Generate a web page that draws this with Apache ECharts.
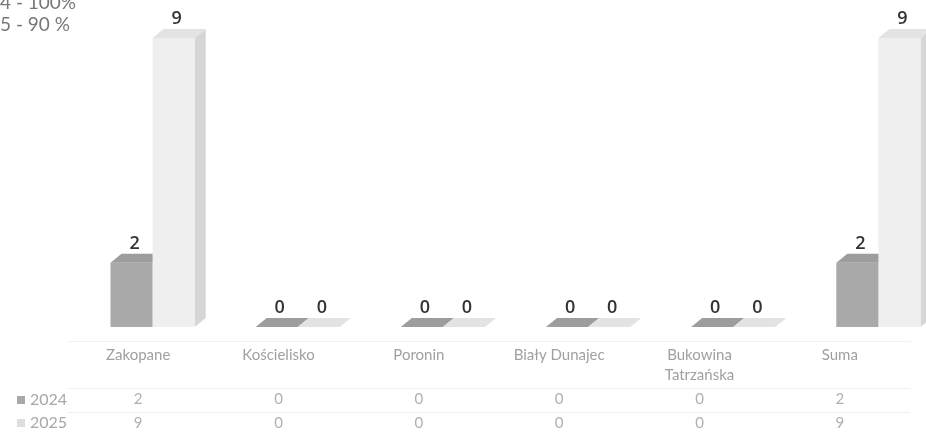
<!DOCTYPE html>
<html>
<head>
<meta charset="utf-8">
<script src="https://cdn.jsdelivr.net/npm/echarts@6/dist/echarts.min.js"></script>
<style>
html,body{margin:0;padding:0;background:#fff;}
#chart{width:926px;height:432px;}
</style>
</head>
<body>
<div id="chart"></div>
<script>
const categories = ['Zakopane', 'Kościelisko', 'Poronin', 'Biały Dunajec', 'Bukowina\nTatrzańska', 'Suma'];
const seriesNames = ['2024', '2025'];
const values2024 = [2, 0, 0, 0, 0, 2];
const values2025 = [9, 0, 0, 0, 0, 9];
const noteLines = ['4 - 100%', '5 - 90 %'];

const FONT = 'Lato, "Open Sans", sans-serif';
const LABEL_FONT = '"Open Sans", Lato, sans-serif';
const palettes = [
  { front: '#a9a9a9', top: '#9d9d9d', side: '#8f8f8f' },
  { front: '#efefef', top: '#e3e3e3', side: '#d6d6d6' }
];

function makeRender(sIdx) {
  return function (params, api) {
    const i = api.value(0), v = api.value(1);
    const base = api.coord([i, 0]);
    const tp = api.coord([i, v]);
    const band = api.size([1, 0])[0];
    const w = band * 0.29;
    const dx = 11, dy = 9;
    const x0 = base[0] + (sIdx === 0 ? -w : 0);
    const yb = base[1], yt = tp[1];
    const c = palettes[sIdx];
    const children = [];
    if (v > 0) {
      children.push({ type: 'polygon', shape: { points: [[x0 + w, yt], [x0 + w + dx, yt - dy], [x0 + w + dx, yb - dy], [x0 + w, yb]] }, style: { fill: c.side } });
      children.push({ type: 'rect', shape: { x: x0, y: yt, width: w, height: yb - yt }, style: { fill: c.front } });
    }
    children.push({ type: 'polygon', shape: { points: [[x0, yt], [x0 + dx, yt - dy], [x0 + w + dx, yt - dy], [x0 + w, yt]] }, style: { fill: c.top } });
    children.push({ type: 'text', x: x0 + w / 2 + 3, y: yt - dy - 10,
      style: { text: String(v), fill: '#333333', font: '600 18px ' + LABEL_FONT, align: 'center', verticalAlign: 'middle' } });
    return { type: 'group', children: children };
  };
}

const chart = echarts.init(document.getElementById('chart'));
chart.setOption({
  animation: false,
  backgroundColor: '#ffffff',
  title: {
    text: noteLines.join('\n'), left: 0, top: -8, padding: 0,
    textStyle: { fontFamily: FONT, fontSize: 19, fontWeight: 'normal', color: '#777777', lineHeight: 22 }
  },
  legend: {
    data: seriesNames, orient: 'vertical', left: 17, top: 392, padding: 0,
    itemWidth: 8, itemHeight: 8, itemGap: 7, icon: 'rect',
    textStyle: { fontFamily: FONT, fontSize: 16, color: '#a8a8a8' }
  },
  grid: [
    { left: 80, width: 871, top: 38, bottom: 105, outerBoundsMode: 'none', containLabel: false },
    { left: 68, right: 16, top: 340, height: 1, outerBoundsMode: 'none' }
  ],
  xAxis: [
    { gridIndex: 0, type: 'category', data: categories, show: false },
    { gridIndex: 1, type: 'category', data: categories, position: 'bottom', offset: 0,
      axisLine: { show: true, lineStyle: { color: '#f2f2f2' } }, axisTick: { show: false },
      axisLabel: { fontFamily: FONT, fontSize: 15, color: '#a0a0a0', margin: 4, lineHeight: 20, interval: 0 } },
    { gridIndex: 1, type: 'category', data: values2024.map(String), position: 'bottom', offset: 47,
      axisLine: { show: true, lineStyle: { color: '#f2f2f2' } }, axisTick: { show: false },
      axisLabel: { fontFamily: FONT, fontSize: 15, color: '#b0b0b0', margin: 4, interval: 0 } },
    { gridIndex: 1, type: 'category', data: values2025.map(String), position: 'bottom', offset: 71,
      axisLine: { show: true, lineStyle: { color: '#eeeeee' } }, axisTick: { show: false },
      axisLabel: { fontFamily: FONT, fontSize: 15, color: '#b0b0b0', margin: 4, interval: 0 } }
  ],
  yAxis: [
    { gridIndex: 0, type: 'value', min: 0, max: 9, show: false },
    { gridIndex: 1, type: 'value', show: false }
  ],
  series: [
    { name: seriesNames[0], type: 'custom', xAxisIndex: 0, yAxisIndex: 0, renderItem: makeRender(0),
      itemStyle: { color: palettes[0].front }, data: values2024.map((v, i) => [i, v]) },
    { name: seriesNames[1], type: 'custom', xAxisIndex: 0, yAxisIndex: 0, renderItem: makeRender(1),
      itemStyle: { color: '#dddddd' }, data: values2025.map((v, i) => [i, v]) }
  ]
});
</script>
</body>
</html>
